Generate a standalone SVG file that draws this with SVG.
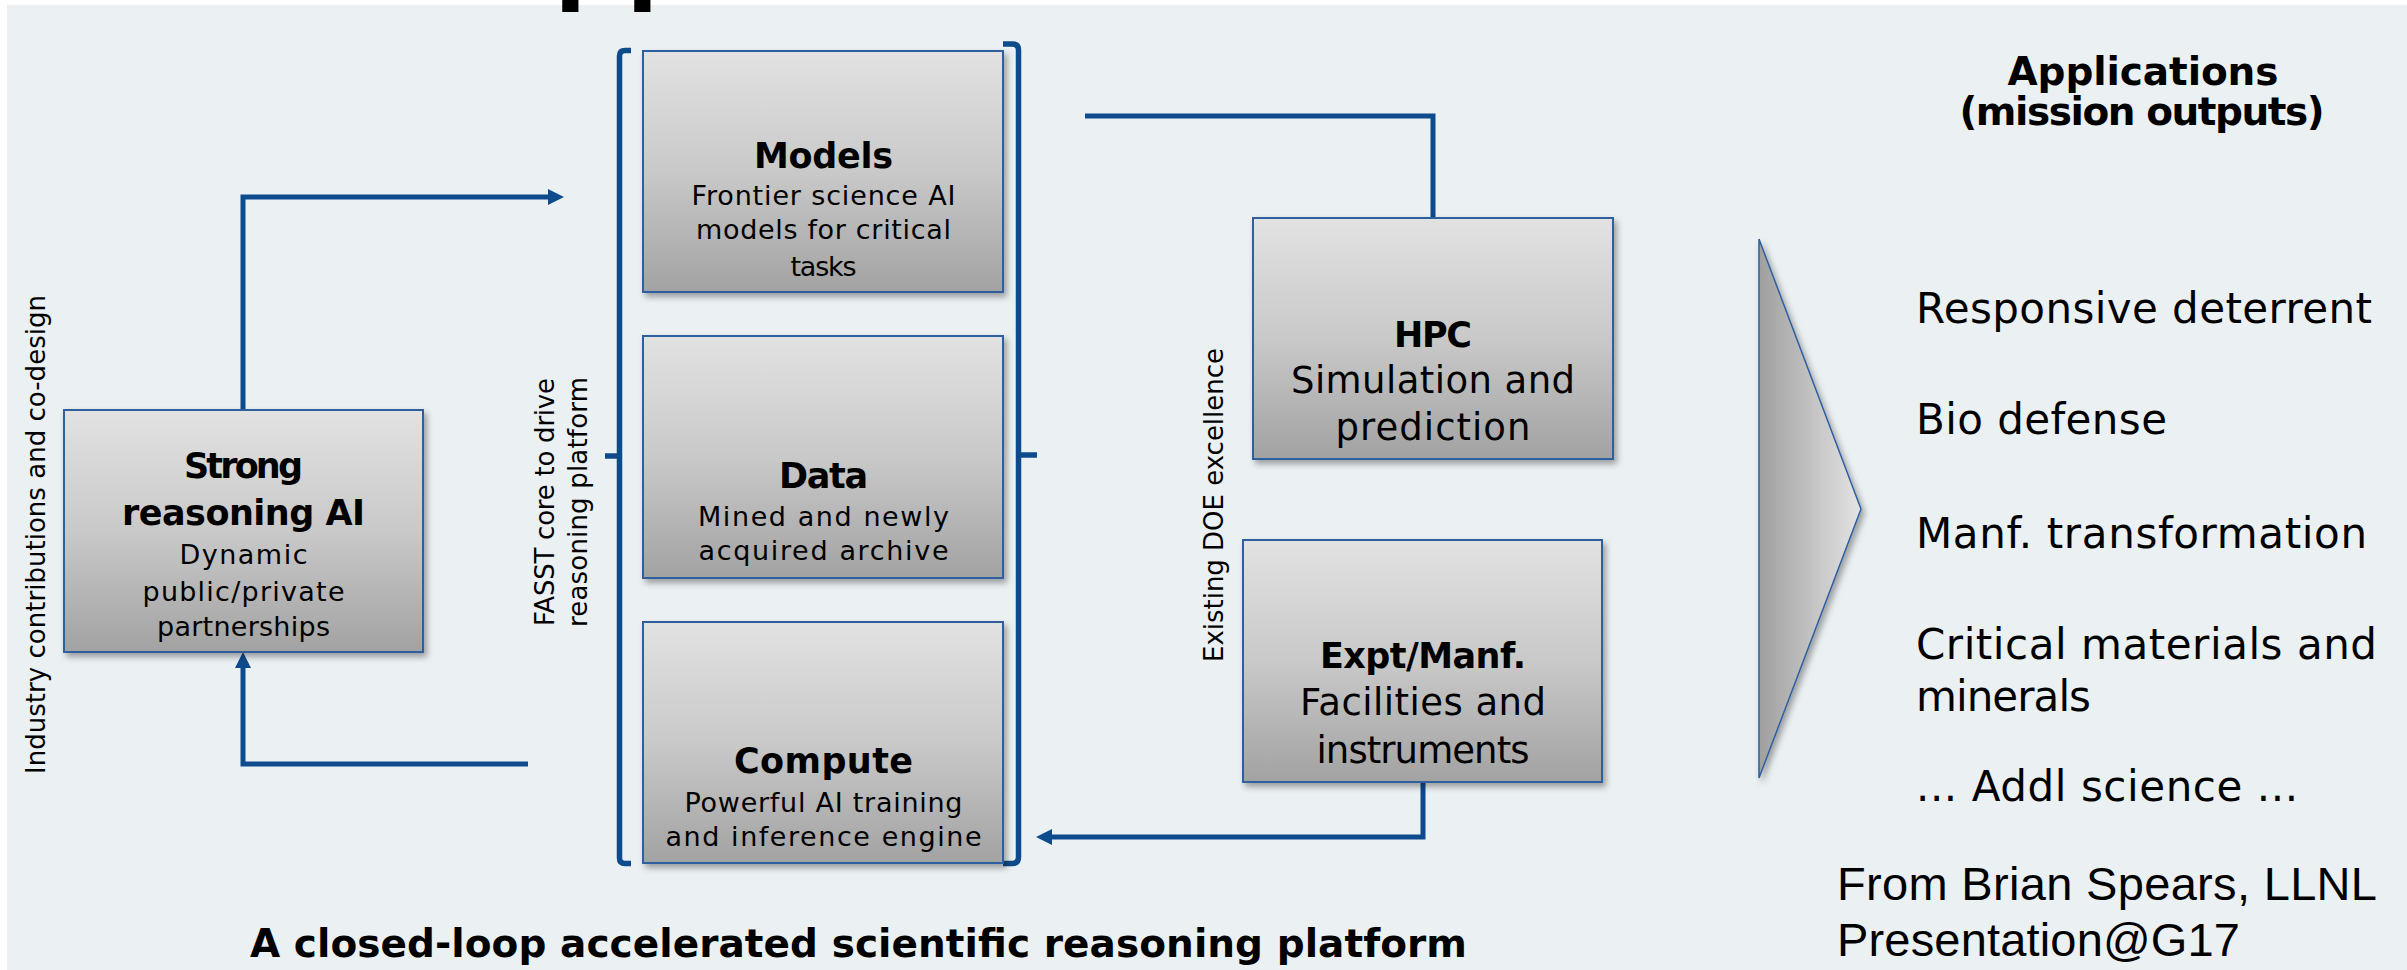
<svg xmlns="http://www.w3.org/2000/svg" width="2407" height="970" viewBox="0 0 2407 970">
  <defs>
    <linearGradient id="boxGrad" x1="0" y1="0" x2="0" y2="1">
      <stop offset="0" stop-color="#E2E2E2"/>
      <stop offset="0.5" stop-color="#C9C9C9"/>
      <stop offset="1" stop-color="#A2A2A2"/>
    </linearGradient>
    <linearGradient id="chevGrad" x1="0" y1="0" x2="1" y2="0">
      <stop offset="0" stop-color="#9F9F9F"/>
      <stop offset="1" stop-color="#E4E4E4"/>
    </linearGradient>
    <filter id="shadow" x="-10%" y="-10%" width="125%" height="130%">
      <feDropShadow dx="3" dy="4" stdDeviation="3" flood-color="#000" flood-opacity="0.35"/>
    </filter>
    <marker id="arrow" markerUnits="userSpaceOnUse" markerWidth="18" markerHeight="18" viewBox="0 0 18 18" refX="2" refY="9" orient="auto">
      <path d="M0,1 L16,9 L0,17 z" fill="#0D4B8C"/>
    </marker>
    <style>
      .box { fill: url(#boxGrad); stroke: #2F5F9E; stroke-width: 2; filter: url(#shadow); }
      .conn { fill: none; stroke: #0D4B8C; stroke-width: 5; stroke-linejoin: miter; }
      .brk { fill: none; stroke: #0D4B8C; stroke-width: 5.5; }
      .t { font-family: "DejaVu Sans", "Liberation Sans", sans-serif; fill: #000; text-anchor: middle; }
      .b { font-weight: bold; }
      .sub { font-size: 27px; }
      .big { font-size: 37px; }
      .ttl { font-size: 35px; }
      .vlab { font-family: "DejaVu Sans", "Liberation Sans", sans-serif; font-size: 26px; fill: #000; text-anchor: middle; }
      .list { font-family: "DejaVu Sans", "Liberation Sans", sans-serif; font-size: 42px; fill: #000; }
    </style>
  </defs>

  <rect x="0" y="0" width="2407" height="970" fill="#FFFFFF"/>
  <rect x="7" y="5" width="2400" height="965" fill="#EBF0F3"/>

  <!-- cut-off headline fragment -->
  <text x="554" y="-13" font-family="Liberation Sans, Arial, sans-serif" font-weight="bold" font-size="118" fill="#000">pp</text>

  <!-- platform bracket -->
  <g id="platform-bracket">
    <path class="brk" d="M631,50.5 H625 Q619.5,50.5 619.5,56 V858 Q619.5,863.5 625,863.5 H631"/>
    <path class="brk" d="M619.5,456 H605"/>
    <path class="brk" d="M1003,44 H1012 Q1018.5,44 1018.5,50 V857 Q1018.5,863.5 1012,863.5 H1003"/>
    <path class="brk" d="M1018.5,455 H1037"/>
  </g>

  <!-- connectors -->
  <g id="connectors">
    <path class="conn" d="M243,410 V197 H550" marker-end="url(#arrow)"/>
    <path class="conn" d="M528,764 H243 V666" marker-end="url(#arrow)"/>
    <path class="conn" d="M1085,116 H1433 V218"/>
    <path class="conn" d="M1423,782 V837 H1050" marker-end="url(#arrow)"/>
  </g>

  <!-- nodes -->
  <g id="node-strong">
    <rect class="box" x="64" y="410" width="359" height="242"/>
    <text class="t b ttl" x="243.5" y="477.5" textLength="119">Strong</text>
    <text class="t b ttl" x="243.5" y="525" textLength="243">reasoning AI</text>
    <text class="t sub" x="243.5" y="564" textLength="128">Dynamic</text>
    <text class="t sub" x="243.5" y="601" textLength="202">public/private</text>
    <text class="t sub" x="243.5" y="636" textLength="173">partnerships</text>
  </g>

  <g id="node-models">
    <rect class="box" x="643" y="51" width="360" height="241"/>
    <text class="t b ttl" x="823.5" y="167.5" textLength="139">Models</text>
    <text class="t sub" x="823.5" y="205" textLength="264">Frontier science AI</text>
    <text class="t sub" x="823.5" y="239" textLength="255">models for critical</text>
    <text class="t sub" x="823.5" y="276" textLength="66">tasks</text>
  </g>

  <g id="node-data">
    <rect class="box" x="643" y="336" width="360" height="242"/>
    <text class="t b ttl" x="823.5" y="488" textLength="89">Data</text>
    <text class="t sub" x="823.5" y="526" textLength="251">Mined and newly</text>
    <text class="t sub" x="823.5" y="560" textLength="250">acquired archive</text>
  </g>

  <g id="node-compute">
    <rect class="box" x="643" y="622" width="360" height="241"/>
    <text class="t b ttl" x="823.5" y="773" textLength="179">Compute</text>
    <text class="t sub" x="823.5" y="811.5" textLength="278">Powerful AI training</text>
    <text class="t sub" x="823.5" y="846" textLength="316">and inference engine</text>
  </g>

  <g id="node-hpc">
    <rect class="box" x="1253" y="218" width="360" height="241"/>
    <text class="t b ttl" x="1433" y="346.5" textLength="78">HPC</text>
    <text class="t big" x="1433" y="393" textLength="284">Simulation and</text>
    <text class="t big" x="1433" y="440" textLength="195">prediction</text>
  </g>

  <g id="node-expt">
    <rect class="box" x="1243" y="540" width="359" height="242"/>
    <text class="t b ttl" x="1423" y="668" textLength="206">Expt/Manf.</text>
    <text class="t big" x="1423" y="715" textLength="246">Facilities and</text>
    <text class="t big" x="1423" y="763" textLength="213">instruments</text>
  </g>

  <g id="node-applications">
    <polygon points="1759,239 1861,509 1759,778" fill="url(#chevGrad)" stroke="#2F5F9E" stroke-width="1.5" filter="url(#shadow)"/>
    <text class="t b" x="2143" y="85" font-size="39" textLength="271">Applications</text>
    <text class="t b" x="2142" y="125" font-size="39" textLength="365">(mission outputs)</text>
    <text class="list" x="1916" y="322.5" textLength="456">Responsive deterrent</text>
    <text class="list" x="1916" y="434" textLength="251">Bio defense</text>
    <text class="list" x="1916" y="547.5" textLength="451">Manf. transformation</text>
    <text class="list" x="1916" y="658.5" textLength="461">Critical materials and</text>
    <text class="list" x="1916" y="711" textLength="175">minerals</text>
    <text class="list" x="1916" y="801" textLength="382">... Addl science ...</text>
  </g>

  <!-- side labels -->
  <g id="labels">
    <text class="vlab" transform="translate(45,534.5) rotate(-90)" textLength="479">Industry contributions and co-design</text>
    <text class="vlab" transform="translate(554,502) rotate(-90)" textLength="248">FASST core to drive</text>
    <text class="vlab" transform="translate(587,502) rotate(-90)" textLength="250">reasoning platform</text>
    <text class="vlab" transform="translate(1222.5,505) rotate(-90)" textLength="314">Existing DOE excellence</text>
    <text class="t b" x="858.5" y="956.5" font-size="39" textLength="1217">A closed-loop accelerated scientific reasoning platform</text>
    <text font-family="Liberation Sans, Arial, sans-serif" font-size="47" fill="#000" x="1837" y="900" textLength="540">From Brian Spears, LLNL</text>
    <text font-family="Liberation Sans, Arial, sans-serif" font-size="47" fill="#000" x="1837" y="955.5" textLength="403">Presentation@G17</text>
  </g>
</svg>
